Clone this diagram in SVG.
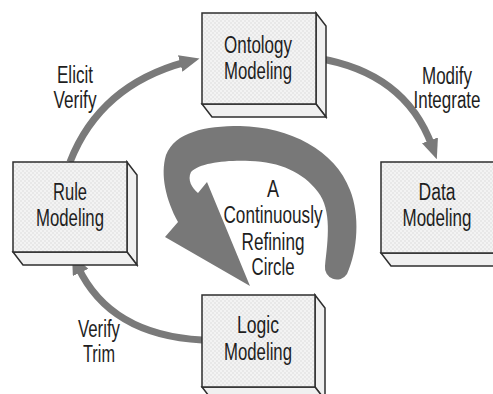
<svg xmlns="http://www.w3.org/2000/svg" width="493" height="394" viewBox="0 0 493 394">
<defs>
<pattern id="chk" width="4" height="4" patternUnits="userSpaceOnUse">
<rect width="4" height="4" fill="#f3f3f3"/>
<rect width="2" height="2" fill="#e8e8e8"/>
<rect x="2" y="2" width="2" height="2" fill="#e8e8e8"/>
</pattern>
<marker id="ah" markerUnits="userSpaceOnUse" markerWidth="20" markerHeight="17" refX="6" refY="8.5" orient="auto">
<path d="M0,0 L20,8.5 L0,17 Z" fill="#7a7a7a"/>
</marker>
</defs>
<style>
.face{fill:url(#chk);stroke:#2e2e2e;stroke-width:1.5;stroke-linejoin:miter}
.side{fill:#f0f0f0;stroke:#2e2e2e;stroke-width:1.5;stroke-linejoin:miter}
.t{font-family:"Liberation Sans Narrow","Arial Narrow","Liberation Sans",Arial,sans-serif;font-size:23px;fill:#1e1e1e;text-anchor:middle}
.con{fill:none;stroke:#7a7a7a;stroke-width:7;marker-end:url(#ah)}
</style>
<rect width="493" height="394" fill="#ffffff"/>

<g id="cycle">
<path d="M 178,222 C 166,200 160,175 166,155 C 175,132 205,126 240,126 C 290,127 335,150 350,190 C 360,215 358,250 347,274 A 12,12 0 0 1 325,266 C 328,240 332,210 318,192 C 303,172 280,162 250,161 C 225,160 200,163 191,172 C 187,180 192,188 198,193 L 207,182 L 250,286 L 165,237 Z" fill="#787878"/>
<text class="t" x="273" y="197" textLength="12" lengthAdjust="spacingAndGlyphs">A</text>
<text class="t" x="273" y="223" textLength="99" lengthAdjust="spacingAndGlyphs">Continuously</text>
<text class="t" x="273" y="250" textLength="63" lengthAdjust="spacingAndGlyphs">Refining</text>
<text class="t" x="273" y="275" textLength="43" lengthAdjust="spacingAndGlyphs">Circle</text>
</g>

<g id="connectors">
<path class="con" d="M 70,162 Q 100,85 186,62"/>
<path class="con" d="M 316,58 Q 405,72 432,146"/>
<path class="con" d="M 202,340 Q 110,335 78,267"/>
<text class="t" x="75" y="83" textLength="36" lengthAdjust="spacingAndGlyphs">Elicit</text>
<text class="t" x="75" y="108" textLength="43" lengthAdjust="spacingAndGlyphs">Verify</text>
<text class="t" x="447" y="84" textLength="50" lengthAdjust="spacingAndGlyphs">Modify</text>
<text class="t" x="447" y="108" textLength="67" lengthAdjust="spacingAndGlyphs">Integrate</text>
<text class="t" x="99" y="337" textLength="42" lengthAdjust="spacingAndGlyphs">Verify</text>
<text class="t" x="99" y="362" textLength="32" lengthAdjust="spacingAndGlyphs">Trim</text>
</g>

<g id="ontology">
<polygon class="side" points="316,13 326,26 326,117 316,104"/>
<polygon class="side" points="202,104 316,104 326,117 212,117"/>
<rect class="face" x="202" y="13" width="114" height="91"/>
<text class="t" x="258" y="53" textLength="68" lengthAdjust="spacingAndGlyphs">Ontology</text>
<text class="t" x="258" y="79" textLength="68" lengthAdjust="spacingAndGlyphs">Modeling</text>
</g>

<g id="rule">
<polygon class="side" points="127,162 137,175 137,265 127,252"/>
<polygon class="side" points="13,252 127,252 137,265 23,265"/>
<rect class="face" x="13" y="162" width="114" height="90"/>
<text class="t" x="70" y="200" textLength="34" lengthAdjust="spacingAndGlyphs">Rule</text>
<text class="t" x="70" y="226" textLength="68" lengthAdjust="spacingAndGlyphs">Modeling</text>
</g>

<g id="data">
<polygon class="side" points="381,253 494,253 504,266 391,266"/>
<rect class="face" x="381" y="162" width="114" height="91"/>
<text class="t" x="437" y="200" textLength="37" lengthAdjust="spacingAndGlyphs">Data</text>
<text class="t" x="437" y="226" textLength="69" lengthAdjust="spacingAndGlyphs">Modeling</text>
</g>

<g id="logic">
<polygon class="side" points="315,295 325,308 325,400 315,387"/>
<polygon class="side" points="202,387 315,387 325,400 212,400"/>
<rect class="face" x="202" y="295" width="113" height="92"/>
<text class="t" x="258" y="333" textLength="42" lengthAdjust="spacingAndGlyphs">Logic</text>
<text class="t" x="258" y="360" textLength="68" lengthAdjust="spacingAndGlyphs">Modeling</text>
</g>
</svg>
